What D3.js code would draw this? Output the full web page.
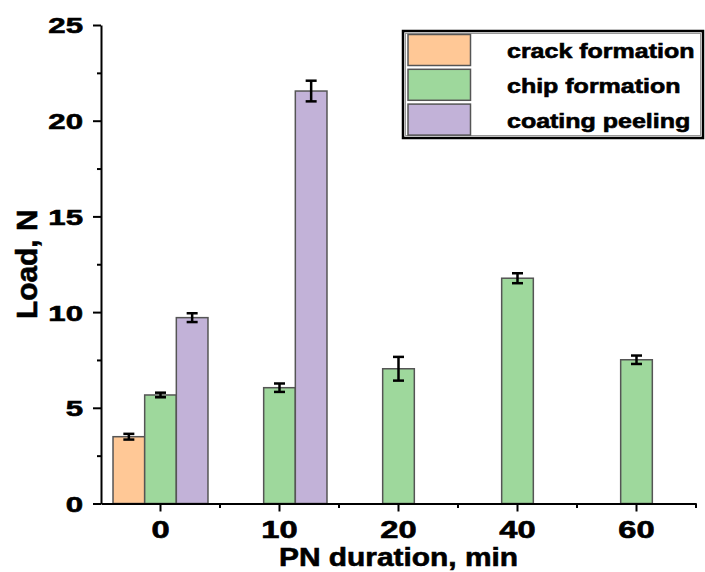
<!DOCTYPE html>
<html>
<head>
<meta charset="utf-8">
<script src="https://cdn.jsdelivr.net/npm/d3@7/dist/d3.min.js"></script>
<style>
  html, body { margin: 0; padding: 0; background: #ffffff; }
  svg { display: block; }
  text { font-family: "Liberation Sans", Arial, sans-serif; font-weight: bold; fill: #000; stroke: #000; stroke-width: 0.6px; }
</style>
</head>
<body>
<div id="chart"></div>
<script>
// ---- data ----
const categories = ["0", "10", "20", "40", "60"];
const crackValues   = [3.49, null, null, null, null];
const crackErrors   = [0.15, null, null, null, null];
const chipValues    = [5.67, 6.05, 7.04, 11.77, 7.51];
const chipErrors    = [0.12, 0.22, 0.62, 0.26, 0.22];
const peelValues    = [9.71, 21.55, null, null, null];
const peelErrors    = [0.23, 0.54, null, null, null];
const seriesNames   = ["crack formation", "chip formation", "coating peeling"];
const seriesColors  = ["#FFC896", "#9ED89C", "#C2B2D8"];
const yTickValues   = [0, 5, 10, 15, 20, 25];
const yMinorValues  = [2.5, 7.5, 12.5, 17.5, 22.5];
const xTitle = "PN duration, min";
const yTitle = "Load, N";

const W = 705, H = 572;
const svg = d3.select("#chart").append("svg").attr("width", W).attr("height", H);
svg.append("rect").attr("width", W).attr("height", H).attr("fill", "#fff");

const x = d3.scaleBand().domain(categories).range([101, 696]).paddingInner(0).paddingOuter(0);
const y = d3.scaleLinear().domain([0, 25]).range([503.5, 25]);
const bw = x.bandwidth() * 0.266;

const series = [
  { name: seriesNames[0], values: crackValues, errors: crackErrors, color: seriesColors[0], offset: -1 },
  { name: seriesNames[1], values: chipValues,  errors: chipErrors,  color: seriesColors[1], offset: 0 },
  { name: seriesNames[2], values: peelValues,  errors: peelErrors,  color: seriesColors[2], offset: 1 }
];

// bars
series.forEach(s => {
  const data = categories.map((c, i) => ({ c, v: s.values[i], e: s.errors[i] })).filter(d => d.v != null);
  const cx = d => x(d.c) + x.bandwidth() / 2 + s.offset * bw;
  svg.append("g").selectAll("rect").data(data).join("rect")
    .attr("x", d => cx(d) - bw / 2)
    .attr("y", d => y(d.v))
    .attr("width", bw)
    .attr("height", d => y(0) - y(d.v))
    .attr("fill", s.color)
    .attr("stroke", "#555")
    .attr("stroke-width", 1.5);
  const eg = svg.append("g").attr("stroke", "#000").attr("stroke-width", 2.5);
  data.forEach(d => {
    const X = cx(d);
    eg.append("line").attr("x1", X).attr("x2", X).attr("y1", y(d.v - d.e)).attr("y2", y(d.v + d.e));
    eg.append("line").attr("x1", X - 5.5).attr("x2", X + 5.5).attr("y1", y(d.v - d.e)).attr("y2", y(d.v - d.e));
    eg.append("line").attr("x1", X - 5.5).attr("x2", X + 5.5).attr("y1", y(d.v + d.e)).attr("y2", y(d.v + d.e));
  });
});

// y axis
const yAxis = svg.append("g").attr("transform", `translate(${x.range()[0]},0)`)
  .call(d3.axisLeft(y).tickValues(yTickValues).tickSize(8).tickSizeOuter(0).tickFormat(d3.format("d")));
yAxis.select(".domain").attr("stroke", "#000").attr("stroke-width", 2);
yAxis.selectAll(".tick line").attr("stroke", "#000").attr("stroke-width", 2);
const ySx = 1.42;
yAxis.selectAll(".tick text")
  .attr("font-size", 22).attr("font-family", "Liberation Sans, Arial, sans-serif").attr("font-weight", "bold")
  .attr("x", -18 / ySx).attr("dy", "0.36em")
  .attr("transform", `scale(${ySx},1)`);
svg.append("g").attr("transform", `translate(${x.range()[0]},0)`)
  .call(d3.axisLeft(y).tickValues(yMinorValues).tickSize(4).tickFormat(""))
  .call(g => g.select(".domain").remove())
  .selectAll(".tick line").attr("stroke", "#000").attr("stroke-width", 2);

// x axis
const xAxis = svg.append("g").attr("transform", `translate(0,${y(0)})`)
  .call(d3.axisBottom(x).tickSize(8).tickSizeOuter(0));
xAxis.select(".domain").attr("stroke", "#000").attr("stroke-width", 2);
xAxis.selectAll(".tick line").attr("stroke", "#000").attr("stroke-width", 2);
const xSx = 1.42;
xAxis.selectAll(".tick text")
  .attr("font-size", 23).attr("font-family", "Liberation Sans, Arial, sans-serif").attr("font-weight", "bold")
  .attr("y", 34.5).attr("dy", 0)
  .attr("transform", `scale(${xSx},1)`);
const minorX = categories.map(c => x(c) + x.bandwidth());
svg.append("g").selectAll("line").data(minorX).join("line")
  .attr("x1", d => d).attr("x2", d => d)
  .attr("y1", y(0)).attr("y2", y(0) + 4.5)
  .attr("stroke", "#000").attr("stroke-width", 2);

// axis titles
svg.append("g").attr("transform", `translate(${(x.range()[0] + x.range()[1]) / 2},565.5) scale(1.15,1)`)
  .append("text").attr("text-anchor", "middle").attr("font-size", 26).text(xTitle);
svg.append("g").attr("transform", `translate(37,${(y(0) + y(25)) / 2}) rotate(-90) scale(1.03,1)`)
  .append("text").attr("text-anchor", "middle").attr("font-size", 29).text(yTitle);

// legend
const lg = svg.append("g");
lg.append("rect").attr("x", 403).attr("y", 31).attr("width", 300).attr("height", 107)
  .attr("fill", "#fff").attr("stroke", "#000").attr("stroke-width", 2.5);
lg.append("rect").attr("x", 405.5).attr("y", 33.5).attr("width", 295).attr("height", 102)
  .attr("fill", "none").attr("stroke", "#999").attr("stroke-width", 1);
series.forEach((s, i) => {
  const top = 34.5 + i * 34.8;
  lg.append("rect").attr("x", 408).attr("y", top).attr("width", 62.5).attr("height", 31)
    .attr("fill", s.color).attr("stroke", "#555").attr("stroke-width", 1.5);
  lg.append("g").attr("transform", `translate(507,${top + 23.5}) scale(1.25,1)`)
    .append("text").attr("font-size", 20).text(s.name);
});
</script>
</body>
</html>
